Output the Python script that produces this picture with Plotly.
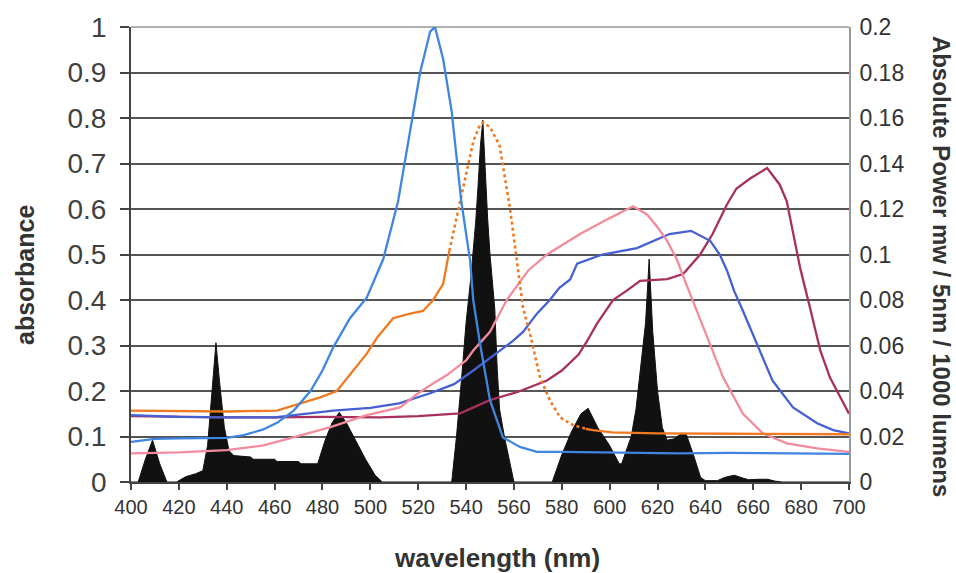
import plotly.graph_objects as go

# ---------------- data ----------------
# lamp emission spectrum (Absolute Power, mW / 5nm / 1000 lumens) - right axis
lamp_wl = [400, 403, 406, 409, 412, 415, 419, 423, 427, 430, 432, 434, 435.5, 437, 439, 441, 443,
           450, 451, 460, 461, 470, 471, 478, 481, 484, 487, 490, 494, 498, 502, 505,
           534, 536, 538, 540, 542, 544, 545, 546, 547, 548, 549, 550, 551, 552, 553, 554, 556, 558, 560,
           576, 580, 584, 588, 591, 595, 600, 604, 605, 607, 609, 611, 613, 615, 616.5, 618, 620, 622,
           624, 627, 630, 632, 635, 638, 640, 645, 648, 652, 656, 658, 662, 666, 669, 672, 700]
lamp_pw = [0, 0, 0.010, 0.0184, 0.008, 0, 0, 0.0024, 0.0036, 0.005, 0.016, 0.040, 0.0612, 0.044, 0.024,
           0.0136, 0.0116, 0.011, 0.010, 0.010, 0.009, 0.009, 0.008, 0.008, 0.018, 0.026, 0.0306, 0.026,
           0.018, 0.010, 0.003, 0,
           0, 0.020, 0.044, 0.070, 0.090, 0.114, 0.130, 0.148, 0.159, 0.136, 0.116, 0.100, 0.088, 0.076,
           0.050, 0.032, 0.020, 0.010, 0,
           0, 0.012, 0.022, 0.030, 0.0324, 0.024, 0.016, 0.008, 0.008, 0.014, 0.020, 0.032, 0.050, 0.070,
           0.098, 0.066, 0.040, 0.024,
           0.0184, 0.019, 0.0214, 0.021, 0.012, 0.002, 0.0006, 0.0006, 0.002, 0.003, 0.0016, 0.001,
           0.0012, 0.0012, 0.0004, 0, 0]

# absorbance curves - left axis
lblue_wl = [400, 410, 420, 430, 440, 447, 455, 461, 468, 475, 480, 484.5, 491.5, 498.5, 505.4, 511.6,
            514.5, 518, 520.8, 525, 527, 530.4, 534, 538, 541.7, 543, 545.8, 550, 555.4, 562.5, 569.6,
            580, 600, 629, 650, 680, 700]
lblue_ab = [0.088, 0.095, 0.096, 0.096, 0.097, 0.103, 0.115, 0.13, 0.157, 0.20, 0.245, 0.296, 0.36,
            0.405, 0.49, 0.617, 0.705, 0.814, 0.90, 0.99, 1.0, 0.93, 0.814, 0.617, 0.486, 0.40, 0.305,
            0.18, 0.098, 0.077, 0.066, 0.066, 0.065, 0.063, 0.064, 0.063, 0.062]

orange_wl = [400, 420, 440, 461, 470.6, 479, 486, 492.8, 498.5, 502.8, 509.5, 516.6, 522, 526, 530.4, 533]
orange_ab = [0.157, 0.156, 0.155, 0.157, 0.173, 0.186, 0.20, 0.245, 0.282, 0.317, 0.36, 0.37, 0.376,
             0.398, 0.435, 0.508]
orange_dash_wl = [533, 538.7, 543, 545.8, 547, 550, 554, 558.4, 561.7, 563.8, 566.7, 570.9, 575, 579.3,
                  584.7, 590]
orange_dash_ab = [0.508, 0.646, 0.748, 0.785, 0.79, 0.78, 0.74, 0.60, 0.47, 0.383, 0.326, 0.23, 0.18,
                  0.142, 0.125, 0.117]
orange2_wl = [590, 593, 601, 620, 650, 680, 700]
orange2_ab = [0.117, 0.114, 0.109, 0.107, 0.106, 0.105, 0.105]

pink_wl = [400, 420, 440, 455, 467.8, 483, 498.5, 512.4, 520, 526, 532, 540, 543, 550, 557, 562.6, 566,
           573.8, 587.6, 600, 609.8, 615.6, 620, 624, 628, 632, 639, 647.4, 655.7, 664, 674, 686.7, 700]
pink_ab = [0.063, 0.065, 0.07, 0.08, 0.098, 0.12, 0.147, 0.164, 0.195, 0.216, 0.235, 0.267, 0.289, 0.33,
           0.40, 0.44, 0.465, 0.50, 0.545, 0.58, 0.606, 0.588, 0.56, 0.53, 0.49, 0.435, 0.34, 0.23, 0.15,
           0.107, 0.085, 0.074, 0.066]

purple_wl = [400, 420, 440, 460, 470, 484.5, 500, 512, 525, 535, 543, 554, 559.6, 563.8, 569.6, 575, 579,
             583.5, 586.4, 597, 611.4, 625, 634, 642, 646, 649, 652, 655.7, 661.6, 668, 676.6, 686.7,
             693.4, 700]
purple_ab = [0.147, 0.143, 0.142, 0.142, 0.148, 0.157, 0.163, 0.173, 0.195, 0.215, 0.245, 0.289, 0.31,
             0.33, 0.37, 0.40, 0.427, 0.445, 0.48, 0.50, 0.514, 0.545, 0.552, 0.53, 0.50, 0.465, 0.42,
             0.376, 0.304, 0.223, 0.164, 0.129, 0.114, 0.107]

maroon_wl = [400, 420, 440, 460, 480, 504, 520, 537.5, 550, 559.6, 562.6, 573.8, 580, 587, 590.6, 594.7,
             601.4, 607, 612.7, 624, 630.7, 637.8, 643, 649, 653, 658.7, 665.8, 671, 674, 675.4, 679.6,
             683.7, 688, 692, 699.2, 700]
maroon_ab = [0.145, 0.143, 0.142, 0.142, 0.143, 0.142, 0.145, 0.151, 0.18, 0.195, 0.20, 0.223, 0.245,
             0.28, 0.31, 0.348, 0.40, 0.42, 0.442, 0.446, 0.457, 0.50, 0.545, 0.61, 0.645, 0.667, 0.69,
             0.654, 0.617, 0.58, 0.47, 0.383, 0.289, 0.23, 0.158, 0.15]

x_ticks = list(range(400, 701, 20))
left_ticks = [0, 0.1, 0.2, 0.3, 0.4, 0.5, 0.6, 0.7, 0.8, 0.9, 1]
left_labels = ["0", "0.1", "0.2", "0.3", "0.4", "0.5", "0.6", "0.7", "0.8", "0.9", "1"]
right_ticks = [0, 0.02, 0.04, 0.06, 0.08, 0.1, 0.12, 0.14, 0.16, 0.18, 0.2]
right_labels = ["0", "0.02", "0.04", "0.06", "0.08", "0.1", "0.12", "0.14", "0.16", "0.18", "0.2"]

# ---------------- figure ----------------
FONT = "Liberation Sans, Arial, sans-serif"
GAP_L = "\u2009\u200A"   # small non-collapsing gap between label and tick
GAP_R = "\u2006"
fig = go.Figure()

fig.add_trace(go.Scatter(x=lamp_wl, y=lamp_pw, mode="lines", fill="tozeroy",
                         fillcolor="#111111", line=dict(color="#111111", width=1),
                         yaxis="y", showlegend=False))

def curve(x, y, color, dash="solid", width=2.3):
    fig.add_trace(go.Scatter(x=x, y=y, mode="lines", yaxis="y2", showlegend=False,
                             line=dict(color=color, width=width, dash=dash)))

curve(maroon_wl, maroon_ab, "#A8305E")
curve(purple_wl, purple_ab, "#4660D2")
curve(pink_wl, pink_ab, "#F28C9C")
curve(orange_wl, orange_ab, "#F07A22")
curve(orange_dash_wl, orange_dash_ab, "#F07A22", dash="dot", width=2.6)
curve(orange2_wl, orange2_ab, "#F07A22")
curve(lblue_wl, lblue_ab, "#3F86E0")

fig.update_layout(
    width=956, height=573,
    margin=dict(l=131, r=107, t=25, b=91),
    paper_bgcolor="white", plot_bgcolor="white",
    showlegend=False,
    xaxis=dict(range=[400, 700], tickvals=x_ticks, ticktext=[str(v) for v in x_ticks],
               ticks="outside", ticklen=6, tickwidth=2, tickcolor="#444",
               showline=True, linecolor="#444", linewidth=2, showgrid=False, zeroline=False,
               tickfont=dict(family=FONT, size=20, color="#333")),
    yaxis=dict(range=[0, 0.2], side="right", tickvals=right_ticks,
               ticktext=[GAP_R + t for t in right_labels],
               ticks="", showline=True, linecolor="#9a9a9a", linewidth=2,
               showgrid=True, gridcolor="#555555", gridwidth=2, zeroline=False,
               tickfont=dict(family=FONT, size=23, color="#333")),
    yaxis2=dict(range=[0, 1], side="left", overlaying="y", tickvals=left_ticks,
                ticktext=[t + GAP_L for t in left_labels],
                ticks="outside", ticklen=9, tickwidth=2, tickcolor="#444",
                showline=True, linecolor="#444", linewidth=2, showgrid=False, zeroline=False,
                tickfont=dict(family=FONT, size=28, color="#404040")),
    shapes=[dict(type="line", xref="paper", yref="paper", x0=0, x1=1, y0=1, y1=1,
                 line=dict(color="#b0b0b0", width=2), layer="below")],
    annotations=[
        dict(text="<b>absorbance</b>", xref="paper", yref="paper", x=0, y=0.455,
             xanchor="center", yanchor="middle", xshift=-106, textangle=-90, showarrow=False,
             font=dict(family=FONT, size=25, color="#333")),
        dict(text="<b>wavelength (nm)</b>", xref="paper", yref="paper", x=0.51, y=0,
             xanchor="center", yanchor="middle", yshift=-76, showarrow=False,
             font=dict(family=FONT, size=26, color="#333")),
        dict(text="<b>Absolute Power mw / 5nm / 1000 lumens</b>", xref="paper", yref="paper",
             x=1, y=0.475, xanchor="center", yanchor="middle", xshift=92, textangle=90,
             showarrow=False, font=dict(family=FONT, size=24, color="#333")),
    ],
)

fig.write_html("out.html")
